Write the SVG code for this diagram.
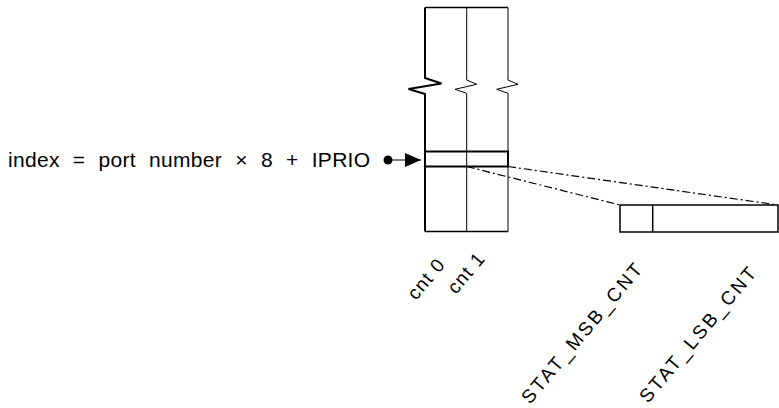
<svg xmlns="http://www.w3.org/2000/svg" width="779" height="408" viewBox="0 0 779 408">
<style>
.ln{fill:none;stroke:#000;stroke-width:1}
.thk{fill:none;stroke:#000;stroke-width:2}
.dd{fill:none;stroke:#000;stroke-width:1.2;stroke-dasharray:8 3 2 3}
.t{font-family:"Liberation Sans",Arial,sans-serif;fill:#000}
.lbl{font-size:19px}
</style>
<defs>
<marker id="ah" markerWidth="16" markerHeight="14" refX="16" refY="7" orient="auto" markerUnits="userSpaceOnUse" viewBox="0 0 16 14">
<path d="M0,0 L16,7 L0,14 Z" fill="#000"/>
</marker>
</defs>
<rect width="779" height="408" fill="#fff"/>
<g id="counter-table">
<path class="ln" d="M425,7.5 H508" style="stroke-width:1.5"/>
<path class="thk" d="M425,7.5 V78 L441.5,83.5 L408.5,89 L425,94 V231.5"/>
<path class="ln" d="M466.7,7.5 V80 L476.7,84.3 L455,89.3 L466.7,93.3 V231.5"/>
<path class="ln" d="M508,7.5 V80 L518,84.3 L496.7,89.3 L508,93.3 V231.5"/>
<path class="ln" d="M425,231.5 H508" style="stroke-width:1.5"/>
</g>
<g id="selected-row">
<rect class="thk" x="425" y="151.5" width="83" height="15"/>
</g>
<g id="stat-register">
<rect class="ln" x="620" y="205" width="158" height="27" style="stroke-width:1.5"/>
<path class="ln" d="M652.7,205 V232" style="stroke-width:1.5"/>
</g>
<g id="index-label">
<text class="t" x="8" y="167" font-size="21" letter-spacing="0.3" word-spacing="7">index = port number × 8 + IPRIO</text>
</g>
<g id="connectors">
<circle cx="388" cy="160" r="4.5" fill="#000"/>
<path class="ln" d="M388,160 H421" stroke-width="1.5" marker-end="url(#ah)"/>
<path class="dd" d="M508,166.5 L778,205"/>
<path class="dd" d="M466.7,166.5 L620,205"/>
</g>
<g id="labels">
<text class="t lbl" transform="translate(416,301) rotate(-50)" textLength="46" lengthAdjust="spacing">cnt 0</text>
<text class="t lbl" transform="translate(456,295) rotate(-50)" textLength="46" lengthAdjust="spacing">cnt 1</text>
<text class="t lbl" transform="translate(530,405) rotate(-50)" textLength="176" lengthAdjust="spacing">STAT_MSB_CNT</text>
<text class="t lbl" transform="translate(648,404) rotate(-50)" textLength="170" lengthAdjust="spacing">STAT_LSB_CNT</text>
</g>
</svg>
